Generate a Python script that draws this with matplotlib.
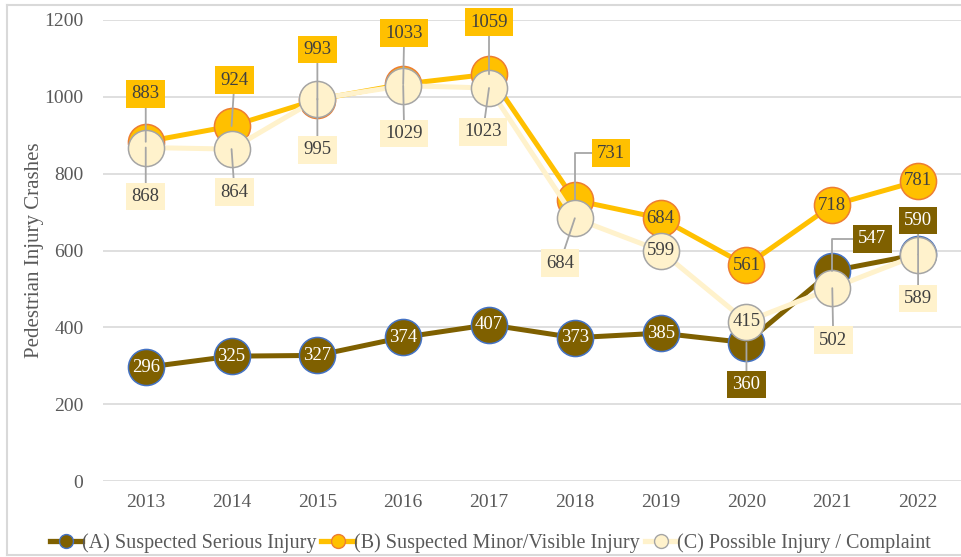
import matplotlib.pyplot as plt
from matplotlib.lines import Line2D

plt.rcParams['font.family'] = ['Liberation Serif', 'DejaVu Serif']

years = [2013, 2014, 2015, 2016, 2017, 2018, 2019, 2020, 2021, 2022]
serious = [296, 325, 327, 374, 407, 373, 385, 360, 547, 590]
minor = [883, 924, 993, 1033, 1059, 731, 684, 561, 718, 781]
possible = [868, 864, 995, 1029, 1023, 684, 599, 415, 502, 589]

names = ["(A) Suspected Serious Injury", "(B) Suspected Minor/Visible Injury",
         "(C) Possible Injury / Complaint"]

# label placement in pixels relative to the point, None = inside the marker
off_a = [None, None, None, None, None, None, None, (0, -42), (40, 32), (0, 34)]
off_b = [(0, 48), (3, 46), (0, 50), (1, 51), (0, 52), (36, 47), None, None, None, None]
off_c = [(0, -49), (3, -43), (0, -51), (1, -48), (-6, -44), (-15, -45), None, None,
         (1, -52), (0, -44)]

series = [
    (serious, off_a, "#7F6000", "#4472C4", "white"),
    (minor, off_b, "#FFC000", "#ED7D31", "#404040"),
    (possible, off_c, "#FFF2CC", "#A5A5A5", "#404040"),
]

fig = plt.figure(figsize=(9.61, 5.57), dpi=100)
ax = fig.add_axes([0.107, 0.1364, 0.893, 0.8277])

for k, (vals, offs, col, edge, tcol) in enumerate(series):
    ax.plot(years, vals, color=col, lw=3.6, marker='o', ms=26, mfc=col, mec=edge,
            mew=1.1, zorder=3 + k, solid_capstyle='round')

for k, (vals, offs, col, edge, tcol) in enumerate(series):
    for x, v, o in zip(years, vals, offs):
        if o is None:
            ax.text(x, v, str(v), ha='center', va='center', fontsize=13.5,
                    color=tcol, zorder=10 + k)
            continue
        elbow = abs(o[0]) > 20
        ax.annotate(str(v), xy=(x, v), xytext=o, textcoords='offset pixels',
                    ha='center', va='center', fontsize=13.5, color=tcol,
                    bbox=dict(boxstyle='square,pad=0.28', fc=col, ec='none'),
                    arrowprops=dict(arrowstyle='-', color='#A6A6A6', lw=1.3,
                                    shrinkA=0, shrinkB=0,
                                    connectionstyle='angle,angleA=0,angleB=90,rad=0'
                                    if elbow else 'arc3'),
                    zorder=20 + k)

ax.set_xlim(2012.5, 2022.5)
ax.set_ylim(0, 1200)
ax.set_yticks(range(0, 1201, 200))
ax.set_xticks(years)
ax.grid(axis='y', color='#D9D9D9', lw=1.2)
ax.set_axisbelow(True)
for s in ax.spines.values():
    s.set_visible(False)
ax.tick_params(length=0, labelsize=14, colors='#595959', pad=9)
ax.tick_params(axis='y', pad=14)
ax.set_ylabel("Pedestrian Injury Crashes", fontsize=15, color='#595959')
ax.yaxis.set_label_coords(-0.068, 0.5)

handles = [Line2D([], [], color=c, lw=3.8, marker='o', ms=10, mfc=c, mec=e, mew=1.0)
           for _, _, c, e, _ in series]
fig.legend(handles, names, loc='center', bbox_to_anchor=(0.51, 0.025), ncol=3,
           frameon=False, fontsize=14.5, labelcolor='#595959', handlelength=1.6,
           handletextpad=0.0, columnspacing=0.25)

# light frame around the chart
fig.add_artist(Line2D([0.0073, 0.0073], [0.004, 0.991], color='#D9D9D9', lw=1.5))
fig.add_artist(Line2D([0.0073, 1.0], [0.991, 0.991], color='#D9D9D9', lw=1.5))
fig.add_artist(Line2D([0.0073, 1.0], [0.004, 0.004], color='#D9D9D9', lw=1.5))

fig.savefig("out.png", dpi=100)
